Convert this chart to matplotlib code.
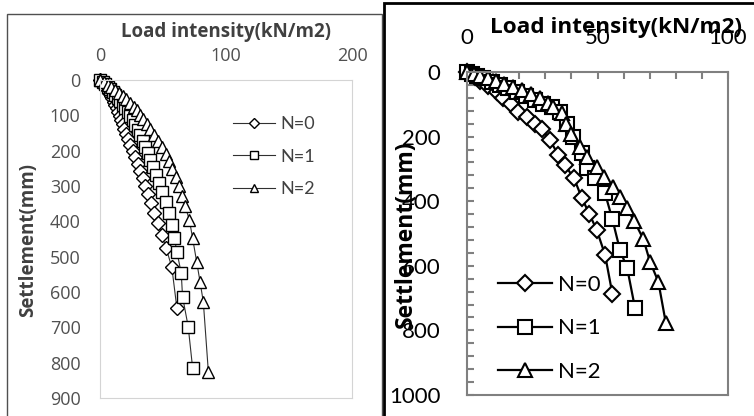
import matplotlib
matplotlib.use("Agg")
import matplotlib.pyplot as plt
from matplotlib.patches import Rectangle
from matplotlib.ticker import MultipleLocator

plt.rcParams["font.family"] = ["Lato", "DejaVu Sans"]
TITLE_FONT = ["Open Sans", "DejaVu Sans"]

SERIES = ["N=0", "N=1", "N=2"]

# left chart: load intensity (kN/m2) vs settlement (mm)
left_n0_load = [0, 1.2, 2.4, 3.6, 4.8, 6.0, 7.2, 8.4, 9.6, 10.8, 12, 13.2, 14.4, 15.6, 16.8,
                18, 19.2, 20.8, 22.4, 24, 26, 28, 30, 32, 34, 36, 38, 40.5, 43, 46, 49,
                52.5, 57, 61]
left_n0_settle = [0, 5, 10, 16, 22, 29, 36, 44, 52, 61, 70, 80, 90, 101, 113, 125, 138, 152,
                  167, 183, 200, 218, 237, 257, 278, 300, 323, 348, 375, 405, 438, 476, 530, 645]
left_n1_load = [0, 2, 4, 6, 8, 10, 12, 14, 16, 18, 20, 22, 24, 26, 28, 30, 32, 34, 36, 38, 40,
                42, 44.5, 47, 49.5, 52, 54.5, 57, 59, 61, 64.5, 65.5, 70, 73.5]
left_n1_settle = [0, 6, 12, 19, 26, 34, 42, 51, 60, 70, 80, 91, 102, 114, 127, 141, 156, 172,
                  189, 207, 226, 246, 268, 292, 318, 346, 376, 410, 446, 486, 547, 613, 698, 815]
left_n2_load = [0, 3, 6, 9, 12, 15, 18, 21, 24, 27, 29.5, 32, 34.5, 37, 40, 43, 46, 49, 52, 55,
                57.5, 60, 62.5, 65, 67.5, 71, 73.5, 76.7, 79.4, 82, 86]
left_n2_settle = [0, 7, 14, 21, 28, 36, 45, 54, 64, 75, 86, 98, 111, 125, 140, 156, 173, 191,
                  210, 230, 252, 275, 300, 327, 356, 397, 448, 514, 571, 628, 826]

# right chart
right_n0_load = [0, 1.5, 3, 5, 8.2, 11.4, 13.9, 17, 19.7, 22.9, 26, 28.6, 31.8, 35, 37.5, 41,
                 44, 46.9, 49.7, 52.9, 55.7]
right_n0_settle = [0, 6, 15, 27, 43, 61, 81, 100, 123, 138, 161, 175, 211, 257, 288, 329, 390,
                   440, 489, 566, 687]
right_n1_load = [0, 2, 4, 6.2, 9.4, 12.6, 15.8, 19, 22.5, 26, 29.2, 32.4, 35.6, 38.5, 40.5,
                 43.9, 45.9, 49, 52.9, 55.7, 58.6, 61.4, 64.4]
right_n1_settle = [0, 5, 12, 20, 30, 40, 50, 61, 74, 87, 98, 109, 123, 160, 200, 252, 298, 329,
                   376, 456, 551, 608, 732]
right_n2_load = [0, 2.5, 5, 8, 11, 14, 17.5, 21, 24.5, 28, 31, 33, 36.3, 38, 40, 43.3, 45.9,
                 49.7, 52.5, 56, 58.6, 61.2, 64, 67.6, 70.1, 73.3, 76.2]
right_n2_settle = [0, 5, 11, 19, 27, 36, 46, 57, 69, 82, 95, 107, 128, 160, 192, 231, 262, 293,
                   325, 355, 386, 422, 460, 518, 587, 649, 778]

W, H = 754, 416


def box(x0, y0, x1, y1):
    # pixel box (top-left origin) -> figure fraction rect
    return [x0 / W, 1 - y1 / H, (x1 - x0) / W, (y1 - y0) / H]


def px(x, y):
    return x / W, 1 - y / H


fig = plt.figure(figsize=(W / 100, H / 100), dpi=100)

# panel frames, kept under the axes
fig.patches.append(Rectangle(px(7, 420), 375 / W, 406 / H, transform=fig.transFigure,
                             fill=False, ec="#505050", lw=1.0, zorder=-2))
fig.patches.append(Rectangle(px(384, 420), 380 / W, 417 / H, transform=fig.transFigure,
                             fc="white", ec="black", lw=2.0, zorder=-1))

markers = ["D", "s", "^"]

# ---- left chart ----
ax1 = fig.add_axes(box(100, 80, 352, 398))
ax1.patch.set_alpha(0)
left = [(left_n0_load, left_n0_settle), (left_n1_load, left_n1_settle),
        (left_n2_load, left_n2_settle)]
lsz = [7.5, 8.5, 9]
for (x, y), m, s, lab in zip(left, markers, lsz, SERIES):
    ax1.plot(x, y, color="#303030", lw=0.8, marker=m, ms=s, mfc="white", mec="black",
             mew=1.0, label=lab, clip_on=False)
ax1.set_xlim(0, 200)
ax1.set_ylim(900, 0)
ax1.xaxis.tick_top()
ax1.set_xticks([0, 100, 200])
ax1.set_yticks(range(0, 901, 100))
ax1.tick_params(axis="x", length=0, labelsize=13, labelcolor="#505050", pad=11)
ax1.tick_params(axis="y", length=0, labelsize=13, labelcolor="#505050", pad=14)
for lbl in ax1.get_xticklabels() + ax1.get_yticklabels():
    lbl.set_fontfamily(TITLE_FONT)
for sp in ax1.spines.values():
    sp.set_color("#d4d4d4")
ax1.legend(loc="upper left", bbox_to_anchor=px(233, 116), bbox_transform=fig.transFigure,
           frameon=False, fontsize=13, handlelength=2.3, handletextpad=0.3,
           labelspacing=0.92, borderpad=0, borderaxespad=0, labelcolor="#404040",
           markerscale=0.7)
fig.text(*px(226, 32), "Load intensity(kN/m2)", ha="center", va="center", fontsize=13.5,
         fontweight="bold", color="#404040", family=TITLE_FONT)
fig.text(*px(28, 240), "Settlement(mm)", ha="center", va="center", rotation=90,
         fontsize=13.5, fontweight="bold", color="#404040", family=TITLE_FONT)

# ---- right chart ----
ax2 = fig.add_axes(box(467, 72, 728, 395))
right = [(right_n0_load, right_n0_settle), (right_n1_load, right_n1_settle),
         (right_n2_load, right_n2_settle)]
rsz = [8, 10, 10]
for (x, y), m, s, lab in zip(right, markers, rsz, SERIES):
    ax2.plot(x, y, color="black", lw=1.6, marker=m, ms=s, mfc="white", mec="black",
             mew=1.5, label=lab, clip_on=False)
ax2.set_xlim(0, 100)
ax2.set_ylim(1000, 0)
ax2.xaxis.tick_top()
ax2.set_xticks([0, 50, 100])
ax2.xaxis.set_minor_locator(MultipleLocator(10))
ax2.set_yticks(range(0, 1001, 200))
ax2.yaxis.set_minor_locator(MultipleLocator(40))
ax2.tick_params(which="both", direction="in", color="#808080", width=1.5, length=5,
                top=True, bottom=False, left=True, right=False)
ax2.tick_params(axis="x", labelsize=16, pad=17)
ax2.tick_params(axis="y", labelsize=16, pad=19)
for sp in ax2.spines.values():
    sp.set_color("#808080")
    sp.set_linewidth(1.5)
ax2.legend(loc="upper left", bbox_to_anchor=px(498, 275), bbox_transform=fig.transFigure,
           frameon=False, fontsize=16, handlelength=2.45, handletextpad=0.25,
           labelspacing=1.05, borderpad=0, borderaxespad=0)
fig.text(*px(616, 28), "Load intensity(kN/m2)", ha="center", va="center", fontsize=16.2,
         fontweight="bold", family=TITLE_FONT)
fig.text(*px(406, 234), "Settlement(mm)", ha="center", va="center", rotation=90,
         fontsize=16.5, fontweight="bold", family=TITLE_FONT)

fig.savefig("out.png", dpi=100)
